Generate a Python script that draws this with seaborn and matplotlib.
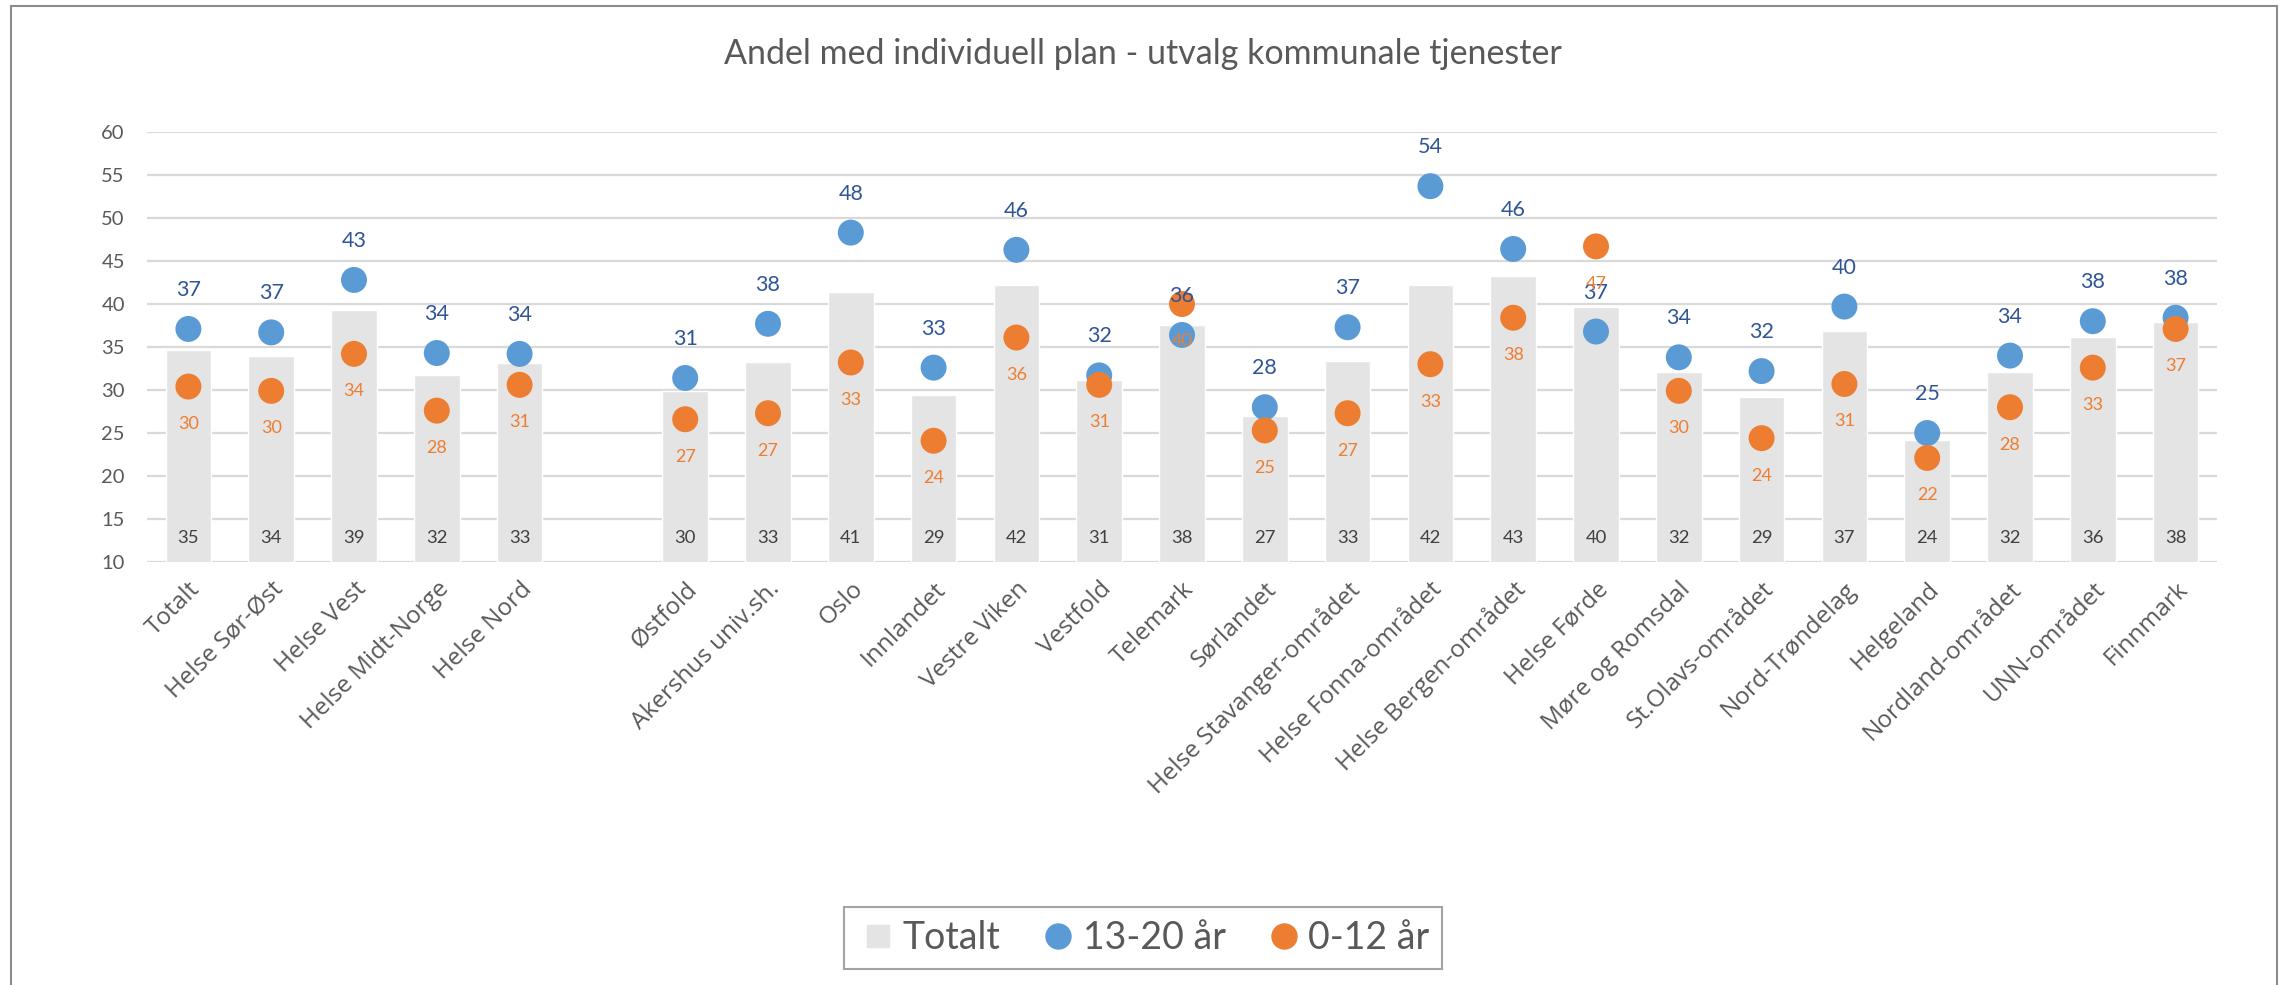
import matplotlib
matplotlib.use("Agg")
import matplotlib.pyplot as plt
import seaborn as sns
import pandas as pd
from matplotlib.lines import Line2D
from matplotlib.patches import Rectangle

# ---------------- data ----------------
title = "Andel med individuell plan - utvalg kommunale tjenester"
regional = ["Totalt", "Helse Sør-Øst", "Helse Vest", "Helse Midt-Norge", "Helse Nord"]
local = ["Østfold", "Akershus univ.sh.", "Oslo", "Innlandet", "Vestre Viken", "Vestfold",
         "Telemark", "Sørlandet", "Helse Stavanger-området", "Helse Fonna-området",
         "Helse Bergen-området", "Helse Førde", "Møre og Romsdal", "St.Olavs-området",
         "Nord-Trøndelag", "Helgeland", "Nordland-området", "UNN-området", "Finnmark"]
series_names = ["Totalt", "13-20 år", "0-12 år"]
totalt = [34.6, 34.0, 39.25, 31.8, 33.1,
          29.9, 33.3, 41.4, 29.4, 42.2, 31.2, 37.6, 27.0, 33.4, 42.2, 43.2, 39.6,
          32.1, 29.2, 36.9, 24.2, 32.1, 36.2, 37.9]
ungdom = [37.1, 36.7, 42.8, 34.3, 34.2,
          31.4, 37.7, 48.3, 32.6, 46.3, 31.7, 36.4, 28.0, 37.3, 53.7, 46.4, 36.8,
          33.8, 32.2, 39.7, 25.0, 34.0, 38.0, 38.4]
barn = [30.4, 29.9, 34.2, 27.6, 30.6,
        26.6, 27.3, 33.2, 24.1, 36.1, 30.6, 40.0, 25.3, 27.3, 33.0, 38.4, 46.7,
        29.9, 24.4, 30.7, 22.1, 28.0, 32.6, 37.1]
yticks = [10, 15, 20, 25, 30, 35, 40, 45, 50, 55, 60]

# ---------------- style ----------------
BAR = "#E4E4E4"
BLUE = "#5B9BD5"
ORANGE = "#ED7D31"
BLUE_TXT = "#2F5597"
GRAY_TXT = "#595959"
GRID = "#D9D9D9"

sns.set_theme(style="white")
plt.rcParams["font.family"] = ["Lato", "DejaVu Sans"]

gap = " "
order = regional + [gap] + local
omrader = regional + local

df_bar = pd.DataFrame({"omrade": omrader, "verdi": totalt})
df_pts = pd.DataFrame({
    "omrade": omrader * 2,
    "verdi": ungdom + barn,
    "gruppe": [series_names[1]] * len(omrader) + [series_names[2]] * len(omrader),
})

W, H = 2282, 985
fig = plt.figure(figsize=(W / 100, H / 100), dpi=100)
fig.patch.set_facecolor("white")
ax = fig.add_axes([147 / W, 1 - 562 / H, (2217 - 147) / W, (562 - 132) / H])

sns.barplot(data=df_bar, x="omrade", y="verdi", order=order, color=BAR,
            saturation=1, width=0.55, ax=ax, zorder=2, errorbar=None)
sns.stripplot(data=df_pts, x="omrade", y="verdi", hue="gruppe", order=order,
              hue_order=series_names[1:], palette=[BLUE, ORANGE], jitter=False,
              dodge=False, size=18.7, linewidth=0, legend=False, ax=ax, zorder=4)

ax.set_ylim(10, 60)
ax.set_xlim(-0.5, len(order) - 0.5)
ax.set_yticks(yticks)
ax.yaxis.grid(True, color=GRID, linewidth=1.6, zorder=1)
ax.set_axisbelow(True)
for s in ax.spines.values():
    s.set_visible(False)
ax.tick_params(axis="both", length=0)
ax.tick_params(axis="y", labelsize=14.5, labelcolor=GRAY_TXT, pad=16)
ax.set_xlabel("")
ax.set_ylabel("")

ax.set_xticks(range(len(order)))
ax.set_xticklabels(order, rotation=45, ha="right", rotation_mode="anchor",
                   fontsize=17.5, color=GRAY_TXT, family=["Open Sans", "DejaVu Sans"])
ax.tick_params(axis="x", pad=11)

# data labels
for name, t, u, b in zip(omrader, totalt, ungdom, barn):
    xi = order.index(name)
    ax.annotate(f"{t:.0f}", xy=(xi, 10), xytext=(0, 17), textcoords="offset points",
                ha="center", va="center", fontsize=13.3, color="#404040", zorder=5,
                annotation_clip=False)
    ax.annotate(f"{u:.0f}", xy=(xi, u), xytext=(0, 28), textcoords="offset points",
                ha="center", va="center", fontsize=15.5, color=BLUE_TXT, zorder=5,
                annotation_clip=False)
    ax.annotate(f"{b:.0f}", xy=(xi, b), xytext=(0, -27), textcoords="offset points",
                ha="center", va="center", fontsize=13, color=ORANGE, zorder=6,
                annotation_clip=False)

fig.text(0.501, 1 - 54 / H, title, ha="center", va="center", fontsize=24.5, color=GRAY_TXT)

handles = [
    Line2D([], [], marker="s", linestyle="", color=BAR, markersize=16),
    Line2D([], [], marker="o", linestyle="", color=BLUE, markersize=18),
    Line2D([], [], marker="o", linestyle="", color=ORANGE, markersize=18),
]
leg = fig.legend(handles, series_names, loc="center", bbox_to_anchor=(0.501, 1 - 938 / H),
                 ncol=3, frameon=True, fontsize=27, fancybox=False, edgecolor="#8C8C8C",
                 handletextpad=0.1, columnspacing=1.0, borderpad=0.35, handlelength=1.1,
                 labelcolor=GRAY_TXT)
leg.get_frame().set_linewidth(1.5)

fig.add_artist(Rectangle((11 / W, -0.05), (2277 - 11) / W, 1.05 - 6 / H,
                         transform=fig.transFigure, fill=False, edgecolor="#8C8C8C", lw=1.5))

fig.savefig("out.png", dpi=100, facecolor="white")
